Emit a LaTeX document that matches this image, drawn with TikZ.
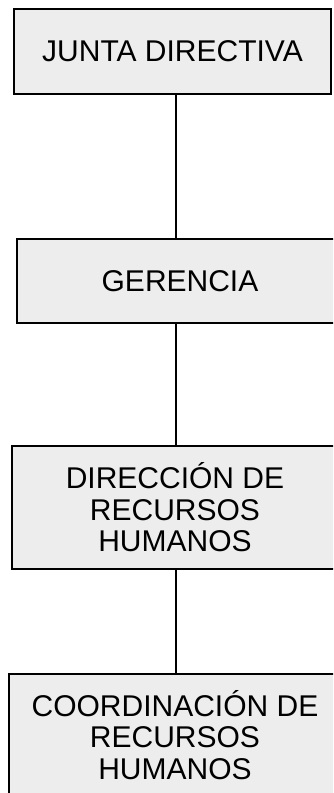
\documentclass[tikz,border=0pt]{standalone}
\usepackage{fontspec}
\setmainfont{Liberation Sans}
\begin{document}
\begin{tikzpicture}[x=1pt,y=-1pt,
  orgbox/.style={draw=black, line width=2pt, fill=black!7, rectangle, inner sep=0pt,
    align=center, font=\fontsize{30}{31.5}\selectfont, anchor=north west},
  link/.style={draw=black, line width=1.5pt}]
\useasboundingbox (0,0) rectangle (333,793);
\clip (0,0) rectangle (333,793);
\node[orgbox, minimum width=317pt, minimum height=85pt] (b1) at (13,8) {JUNTA DIRECTIVA};
\node[orgbox, minimum width=326pt, minimum height=84pt] (b2) at (16,238) {GERENCIA};
\node[orgbox, minimum width=326pt, minimum height=123pt] (b3) at (11,445) {DIRECCIÓN DE\\RECURSOS\\HUMANOS};
\node[orgbox, minimum width=332pt, minimum height=122pt] (b4) at (8,673) {COORDINACIÓN DE\\RECURSOS\\HUMANOS};
\coordinate (spine) at (176,0);
\draw[link] (b1.south -| spine) -- (b2.north -| spine);
\draw[link] (b2.south -| spine) -- (b3.north -| spine);
\draw[link] (b3.south -| spine) -- (b4.north -| spine);
\end{tikzpicture}
\end{document}
